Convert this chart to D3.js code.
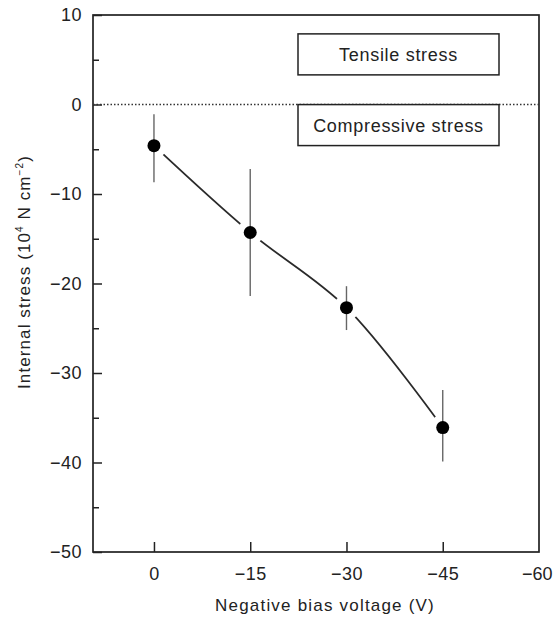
<!DOCTYPE html>
<html><head><meta charset="utf-8">
<script src="https://cdn.jsdelivr.net/npm/d3@7"></script>
<style>body{margin:0;background:#fff}svg{display:block}text{font-family:"Liberation Sans",Arial,sans-serif;fill:#222}</style>
</head><body>
<svg id="c" width="554" height="619"></svg>
<script>
const voltages = [0, -15, -30, -45];
const stress = [-4.6, -14.3, -22.7, -36.1];
const errLow = [-8.7, -21.4, -25.2, -39.9];
const errHigh = [-1.1, -7.2, -20.3, -31.9];
const xTicks = [0, -15, -30, -45, -60];
const yTicks = [10, 0, -10, -20, -30, -40, -50];
const yMinor = [5, -5, -15, -25, -35, -45];
const boxLabels = ["Tensile stress", "Compressive stress"];
const boxYs = [5.6, -2.3];

const svg = d3.select("#c");
const L = 93, R = 539, T = 15, B = 552;
const x = d3.scaleLinear().domain([9.5, -60]).range([L, R]);
const y = d3.scaleLinear().domain([10, -50]).range([T, B]);
const fmt = v => v < 0 ? "\u2212" + Math.abs(v) : String(v);
const ink = "#222";

// frame
svg.append("rect").attr("x", L).attr("y", T).attr("width", R - L).attr("height", B - T)
  .attr("fill", "none").attr("stroke", ink).attr("stroke-width", 1.7);

// y axis
const yAx = svg.append("g").attr("transform", `translate(${L},0)`)
  .call(d3.axisLeft(y).tickValues(yTicks).tickSize(-9).tickPadding(11).tickFormat(fmt));
yAx.select(".domain").remove();
yAx.selectAll("line").attr("stroke", ink).attr("stroke-width", 1.5);
yAx.selectAll("text").attr("font-size", 18).attr("fill", ink).attr("letter-spacing", 0.5);
svg.append("g").attr("transform", `translate(${L},0)`)
  .call(d3.axisLeft(y).tickValues(yMinor).tickSize(-6).tickFormat(""))
  .call(g => { g.select(".domain").remove(); g.selectAll("line").attr("stroke", ink).attr("stroke-width", 1.5); });

// x axis
const xAx = svg.append("g").attr("transform", `translate(0,${B})`)
  .call(d3.axisBottom(x).tickValues(xTicks).tickSize(-10).tickPadding(15).tickFormat(fmt));
xAx.select(".domain").remove();
xAx.selectAll("line").attr("stroke", ink).attr("stroke-width", 1.5);
xAx.selectAll("text").attr("font-size", 18).attr("fill", ink).attr("letter-spacing", 0.5);
const lastTick = xAx.selectAll(".tick").filter(d => d === -60);
lastTick.select("line").remove();
lastTick.select("text").attr("text-anchor", "end").attr("x", 13).attr("letter-spacing", 0);

// zero dotted line
svg.append("line").attr("x1", L).attr("x2", R).attr("y1", y(0)).attr("y2", y(0))
  .attr("stroke", "#333").attr("stroke-width", 1.3).attr("stroke-dasharray", "1.5,2");

// boxes
const bx1 = 298, bx2 = 499;
boxLabels.forEach((t, i) => {
  const yc = y(boxYs[i]);
  svg.append("rect").attr("x", bx1).attr("y", yc - 20.5).attr("width", bx2 - bx1).attr("height", 41)
    .attr("fill", "#fff").attr("stroke", ink).attr("stroke-width", 1.5);
  svg.append("text").attr("x", (bx1 + bx2) / 2).attr("y", yc + 6.5).attr("text-anchor", "middle")
    .attr("font-size", 18).attr("letter-spacing", 0.7).text(t);
});

// curve
const pts = voltages.map((v, i) => [x(v), y(stress[i])]);
svg.append("path").attr("d", d3.line().curve(d3.curveCatmullRom.alpha(0.5))(pts))
  .attr("fill", "none").attr("stroke", "#2a2a2a").attr("stroke-width", 1.8);
// gaps around markers
svg.selectAll(".halo").data(pts).join("circle").attr("cx", d => d[0]).attr("cy", d => d[1])
  .attr("r", 13).attr("fill", "#fff");
// error bars
svg.selectAll(".err").data(voltages).join("line")
  .attr("x1", d => x(d)).attr("x2", d => x(d))
  .attr("y1", (d, i) => y(errHigh[i])).attr("y2", (d, i) => y(errLow[i]))
  .attr("stroke", "#666").attr("stroke-width", 1.4);
// markers
svg.selectAll(".pt").data(pts).join("circle").attr("cx", d => d[0]).attr("cy", d => d[1])
  .attr("r", 6.5).attr("fill", "#000");

// axis titles
svg.append("text").attr("x", 325).attr("y", 611).attr("text-anchor", "middle")
  .attr("font-size", 17).attr("letter-spacing", 1.2).text("Negative bias voltage (V)");
const yt = svg.append("text").attr("transform", "translate(30,272) rotate(-90)")
  .attr("text-anchor", "middle").attr("font-size", 17).attr("letter-spacing", 1.1);
yt.append("tspan").text("Internal stress (10");
yt.append("tspan").attr("font-size", 10).attr("dy", -7).text("4");
yt.append("tspan").attr("dy", 7).text(" N cm");
yt.append("tspan").attr("font-size", 10).attr("dy", -7).text("\u22122");
yt.append("tspan").attr("dy", 7).text(")");
</script>
</body></html>
